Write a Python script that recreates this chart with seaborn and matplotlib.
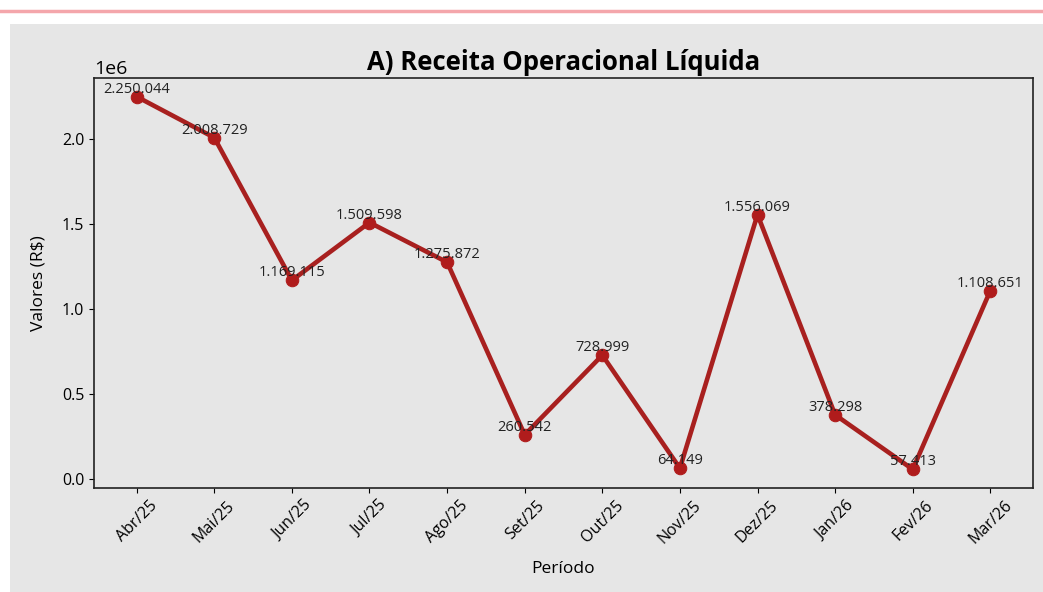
import matplotlib
matplotlib.use('Agg')
import matplotlib.pyplot as plt
import seaborn as sns
import pandas as pd
from matplotlib.patches import Rectangle
from matplotlib.lines import Line2D

# Dados do gráfico
periodos = ['Abr/25', 'Mai/25', 'Jun/25', 'Jul/25', 'Ago/25', 'Set/25',
            'Out/25', 'Nov/25', 'Dez/25', 'Jan/26', 'Fev/26', 'Mar/26']
receita = [2250044, 2008729, 1169115, 1509598, 1275872, 260542,
           728999, 64149, 1556069, 378298, 57413, 1108651]

df = pd.DataFrame({'Período': periodos, 'Receita': receita})

fundo = '#e6e6e6'
plt.rcParams['font.family'] = ['Open Sans', 'DejaVu Sans']

fig = plt.figure(figsize=(10.43, 5.92), dpi=100, facecolor='white')
# painel cinza e linha rosa do topo (captura de tela)
fig.patches.append(Rectangle((10 / 1043, 0), 1, 1 - 24 / 592, transform=fig.transFigure,
                             facecolor=fundo, edgecolor='none', zorder=-5))
fig.lines.append(Line2D([0, 1], [1 - 11 / 592, 1 - 11 / 592], transform=fig.transFigure,
                        color='#f4a6ab', linewidth=2.5, zorder=-5))

ax = fig.add_axes([94 / 1043, 1 - 488 / 592, (1033 - 94) / 1043, (488 - 78) / 592])
ax.set_facecolor(fundo)

sns.lineplot(data=df, x='Período', y='Receita', ax=ax, sort=False,
             color='#a8201f', linewidth=3.3, marker='o', markersize=9,
             markerfacecolor='#b01c1c', markeredgecolor='#b01c1c')

# Rótulos com separador de milhar
for i, v in enumerate(receita):
    txt = f'{v:,}'.replace(',', '.')
    ax.annotate(txt, (i, v), xytext=(0, 0), textcoords='offset points',
                ha='center', va='bottom', fontsize=10.5, color='#222222')

ax.set_title('A) Receita Operacional Líquida', fontsize=18.5, fontweight='bold', pad=6)
ax.set_xlabel('Período', fontsize=12.5, labelpad=10)
ax.set_ylabel('Valores (R$)', fontsize=12.5, labelpad=11)
ax.tick_params(axis='both', labelsize=11.5)
plt.xticks(rotation=45)
ax.yaxis.get_offset_text().set_fontsize(14)
for s in ax.spines.values():
    s.set_color('#222222')
    s.set_linewidth(1.2)

fig.savefig('out.png', dpi=100, facecolor=fig.get_facecolor())
